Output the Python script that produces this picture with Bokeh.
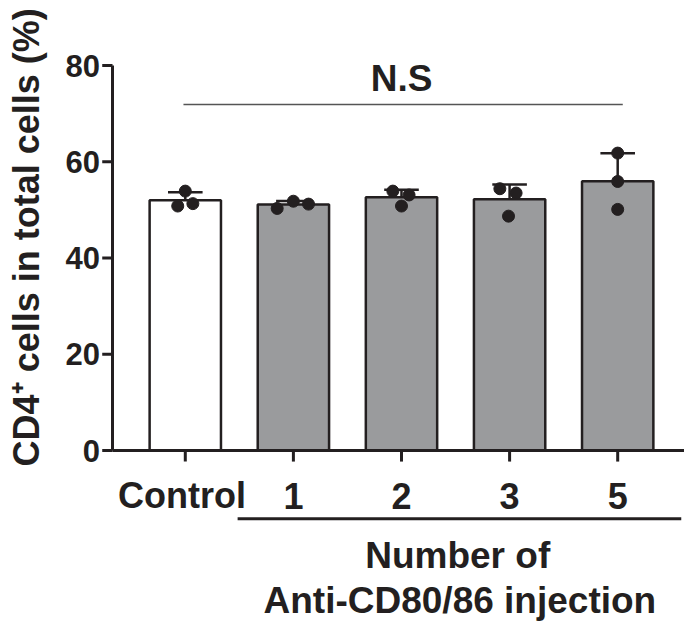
import numpy as np
from bokeh.plotting import figure
from bokeh.models import Range1d, ColumnDataSource
from bokeh.core.properties import value
from bokeh.embed import file_html
from bokeh.resources import INLINE

# ---- data ----
groups = ["Control", "1", "2", "3", "5"]
control_pts = [53.9, 50.8, 51.3]
inj1_pts = [50.3, 51.8, 51.2]
inj2_pts = [53.9, 53.1, 50.8]
inj3_pts = [54.4, 53.5, 48.7]
inj5_pts = [61.8, 55.9, 50.1]
all_pts = [control_pts, inj1_pts, inj2_pts, inj3_pts, inj5_pts]
# horizontal jitter of the dots (fraction of category spacing)
jitter = [[0.0, -0.07, 0.07], [-0.15, 0.0, 0.14], [-0.08, 0.07, 0.0],
          [-0.09, 0.06, -0.01], [0.0, 0.0, 0.0]]
y_ticks = [0, 20, 40, 60, 80]
y_title = "CD4\u207a cells in total cells (%)"
sig_text = "N.S"
group_title_1 = "Number of"
group_title_2 = "Anti-CD80/86 injection"

# ---- derived stats ----
means = [float(np.mean(pp)) for pp in all_pts]
sds = [float(np.std(pp, ddof=1)) for pp in all_pts]
xs = list(range(len(groups)))

INK = "#231f20"
FONT = "Liberation Sans"

# frame covers the whole canvas; axes are drawn as glyphs
X0, X1 = -1.7095, 4.6180
Y0, Y1 = -35.74, 93.51
p = figure(width=684, height=622, output_backend="svg", toolbar_location=None,
           x_range=Range1d(X0, X1), y_range=Range1d(Y0, Y1),
           x_axis_location=None, y_axis_location=None,
           min_border_left=0, min_border_right=0, min_border_top=0, min_border_bottom=0)
p.outline_line_color = None
p.grid.visible = False
p.background_fill_color = "white"
p.border_fill_color = "white"

def txt(x, y, t, size, align="center", angle=0.0):
    p.text(x=x, y=y, text=t, text_align=align, text_baseline="middle", angle=angle,
           text_font=value(FONT), text_font_style="bold", text_font_size=size, text_color=INK)

# y axis
YAX = -0.6734
p.segment(x0=[YAX], y0=[0], x1=[YAX], y1=[80], line_color=INK, line_width=3)
p.segment(x0=[YAX - 0.095] * len(y_ticks), y0=y_ticks, x1=[YAX] * len(y_ticks), y1=y_ticks,
          line_color=INK, line_width=3)
txt([YAX - 0.115] * len(y_ticks), y_ticks, [str(t) for t in y_ticks], "31px", align="right")
txt([-1.465], [44.3], [y_title], "36px", angle=np.pi / 2)

# bars
fills = ["white"] + ["#9a9b9d"] * (len(groups) - 1)
sd_top = [m + s for m, s in zip(means, sds)]
bsrc = ColumnDataSource(dict(x=xs, top=means, fill=fills, sd_top=sd_top))
p.vbar(x="x", top="top", bottom=0, width=0.66, fill_color="fill", line_color=INK,
       line_width=2.5, source=bsrc)

# error bars (upper SD)
p.segment(x0="x", y0="top", x1="x", y1="sd_top", line_color=INK, line_width=2.5, source=bsrc)
cap = 0.16
p.segment(x0=[x - cap for x in xs], y0=sd_top, x1=[x + cap for x in xs], y1=sd_top,
          line_color=INK, line_width=2.5)

# dots
px, py = [], []
for i, (pts, jit) in enumerate(zip(all_pts, jitter)):
    for v, j in zip(pts, jit):
        px.append(i + j)
        py.append(v)
p.scatter(px, py, size=12, fill_color=INK, line_color=INK)

# x axis
p.segment(x0=[YAX], y0=[0], x1=[X1], y1=[0], line_color=INK, line_width=3)
p.segment(x0=xs, y0=[0] * len(xs), x1=xs, y1=[-2.3] * len(xs), line_color=INK, line_width=3)
txt([x - (0.03 if g == "Control" else 0) for x, g in zip(xs, groups)], [-9.4] * len(xs), groups, "36px")

# group bracket + title
p.segment(x0=[0.484], y0=[-14.2], x1=[X1 - 0.03], y1=[-14.2], line_color=INK, line_width=3)
txt([2.52], [-21.9], [group_title_1], "37px")
txt([2.54], [-31.2], [group_title_2], "37px")

# significance line
p.segment(x0=[-0.017], y0=[71.9], x1=[4.047], y1=[71.9], line_color="#555555", line_width=1.5)
txt([2.0], [77.4], [sig_text], "37px")

open("out.html", "w").write(file_html(p, INLINE))
